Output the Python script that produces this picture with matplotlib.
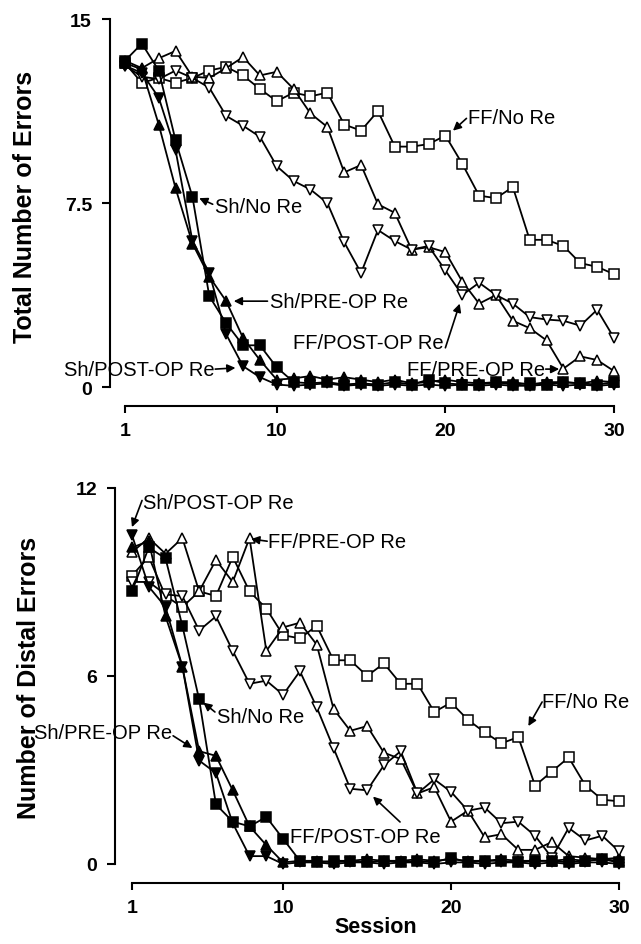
import matplotlib
matplotlib.use('Agg')
import matplotlib.pyplot as plt

plt.rcParams['font.family'] = ['Liberation Sans', 'DejaVu Sans']

sessions = list(range(1, 31))

# total number of errors (top panel)
ff_no_tot = [13.2, 12.4, 12.6, 12.4, 12.6, 12.9, 13.05, 12.7, 12.15, 11.65, 12.0, 11.85, 12.0, 10.7, 10.45,
             11.25, 9.8, 9.8, 9.9, 10.25, 9.1, 7.8, 7.7, 8.15, 6.0, 6.0, 5.75, 5.05, 4.9, 4.6]
ff_pre_tot = [13.3, 13.0, 13.4, 13.7, 12.65, 12.6, 13.0, 13.45, 12.7, 12.85, 12.15, 11.15, 10.6, 8.75, 9.05,
              7.45, 7.1, 5.6, 5.7, 5.5, 4.3, 3.4, 3.75, 2.7, 2.4, 1.9, 0.75, 1.25, 1.1, 0.65]
ff_post_tot = [13.1, 12.65, 12.55, 12.9, 12.6, 12.2, 11.05, 10.65, 10.2, 9.0, 8.4, 8.05, 7.5, 5.9, 4.65,
               6.4, 5.95, 5.6, 5.75, 4.75, 3.75, 4.25, 3.75, 3.4, 2.85, 2.75, 2.7, 2.5, 3.15, 2.0]
sh_no_tot = [13.3, 14.0, 12.9, 10.05, 7.75, 3.7, 2.6, 1.7, 1.7, 0.8, 0.2, 0.15, 0.2, 0.1, 0.15,
             0.1, 0.2, 0.1, 0.3, 0.15, 0.1, 0.1, 0.2, 0.1, 0.15, 0.1, 0.2, 0.15, 0.1, 0.2]
sh_pre_tot = [13.2, 12.95, 10.7, 8.1, 5.85, 4.5, 3.5, 2.0, 1.1, 0.3, 0.35, 0.45, 0.3, 0.4, 0.3,
              0.2, 0.3, 0.15, 0.2, 0.3, 0.2, 0.15, 0.2, 0.2, 0.1, 0.2, 0.2, 0.15, 0.25, 0.2]
sh_post_tot = [13.1, 12.8, 11.8, 9.65, 5.95, 4.65, 2.15, 0.85, 0.4, 0.1, 0.05, 0.1, 0.15, 0.05, 0.1,
               0.05, 0.1, 0.05, 0.1, 0.05, 0.1, 0.05, 0.1, 0.05, 0.05, 0.1, 0.05, 0.1, 0.05, 0.1]

# number of distal errors (bottom panel)
ff_no_dist = [9.2, 9.8, 8.55, 8.2, 8.7, 8.55, 9.8, 8.7, 8.15, 7.3, 7.2, 7.6, 6.5, 6.5, 6.0,
              6.4, 5.75, 5.75, 4.85, 5.15, 4.6, 4.2, 3.85, 4.05, 2.5, 2.95, 3.4, 2.5, 2.05, 2.0]
ff_pre_dist = [9.95, 10.4, 9.9, 10.4, 8.7, 9.7, 9.0, 10.4, 6.8, 7.55, 7.7, 7.0, 4.95, 4.25, 4.4,
               3.55, 3.35, 2.25, 2.45, 1.35, 1.7, 0.85, 0.95, 0.45, 0.45, 0.7, 0.25, 0.2, 0.15, 0.2]
ff_post_dist = [9.0, 9.0, 8.6, 8.55, 7.45, 7.9, 6.8, 5.75, 5.85, 5.4, 6.15, 5.0, 3.7, 2.4, 2.35,
                3.15, 3.6, 2.25, 2.7, 2.3, 1.7, 1.8, 1.3, 1.35, 0.9, 0.2, 1.15, 0.75, 0.9, 0.4]
sh_no_dist = [8.7, 10.1, 9.75, 7.6, 5.25, 1.9, 1.35, 1.2, 1.5, 0.8, 0.1, 0.05, 0.1, 0.1, 0.05,
              0.1, 0.05, 0.1, 0.05, 0.2, 0.05, 0.1, 0.1, 0.05, 0.1, 0.1, 0.05, 0.1, 0.15, 0.05]
sh_pre_dist = [10.1, 10.3, 7.9, 6.3, 3.6, 3.45, 2.35, 1.2, 0.6, 0.05, 0.1, 0.1, 0.05, 0.1, 0.15,
               0.1, 0.1, 0.15, 0.1, 0.15, 0.1, 0.1, 0.15, 0.1, 0.1, 0.1, 0.15, 0.1, 0.15, 0.1]
sh_post_dist = [10.5, 8.85, 8.2, 6.3, 3.3, 2.9, 1.3, 0.25, 0.25, 0.0, 0.05, 0.05, 0.0, 0.05, 0.05,
                0.0, 0.05, 0.05, 0.0, 0.05, 0.05, 0.0, 0.05, 0.05, 0.0, 0.05, 0.0, 0.05, 0.05, 0.0]

x_ticks = [1, 10, 20, 30]


def draw_series(ax, values, marker, filled):
    """one group: black line with open or filled markers"""
    ms = 6.5 if marker == 's' else 7.5
    ax.plot(sessions, values, color='black', lw=1.3, marker=marker, ms=ms,
            mfc='black' if filled else 'white', mec='black', mew=1.1, clip_on=False)


def style_axis(ax, ymax, yticks, yticklabels, xlim):
    ax.set_xlim(*xlim)
    ax.set_ylim(0, ymax)
    for side in ['top', 'right']:
        ax.spines[side].set_visible(False)
    ax.spines['left'].set_bounds(0, ymax)
    ax.spines['bottom'].set_bounds(1, 30)
    ax.spines['bottom'].set_position(('outward', 14))
    ax.spines['left'].set_linewidth(1.5)
    ax.spines['bottom'].set_linewidth(1.5)
    ax.set_yticks(yticks)
    ax.set_yticklabels(yticklabels, fontsize=14, fontweight='bold')
    ax.set_xticks(x_ticks)
    ax.set_xticklabels([str(t) for t in x_ticks], fontsize=14, fontweight='bold')
    ax.tick_params(axis='y', direction='out', length=6, width=1.5, pad=7)
    ax.tick_params(axis='x', direction='out', length=5, width=1.5, pad=6)


def label(ax, text, pos, tail, tip, ha='left'):
    ax.text(pos[0], pos[1], text, ha=ha, va='center', fontsize=14.5)
    ax.annotate('', xy=tip, xytext=tail, annotation_clip=False,
                arrowprops=dict(arrowstyle='-|>', lw=1.2, color='black',
                                mutation_scale=12, shrinkA=0, shrinkB=0))


fig = plt.figure(figsize=(6.41, 9.45), dpi=100)

# top panel
ax1 = fig.add_axes([0.1716, 0.5894, 0.8034, 0.3894])
draw_series(ax1, ff_no_tot, 's', False)
draw_series(ax1, ff_pre_tot, '^', False)
draw_series(ax1, ff_post_tot, 'v', False)
draw_series(ax1, sh_no_tot, 's', True)
draw_series(ax1, sh_pre_tot, '^', True)
draw_series(ax1, sh_post_tot, 'v', True)
style_axis(ax1, 15, [0, 7.5, 15], ['0', '7.5', '15'], (0.11, 30.65))

label(ax1, 'FF/No Re', (21.35, 11.0), (21.25, 10.95), (20.45, 10.45))
label(ax1, 'Sh/No Re', (6.35, 7.35), (6.2, 7.45), (5.4, 7.7))
label(ax1, 'Sh/PRE-OP Re', (9.6, 3.5), (9.45, 3.5), (7.45, 3.5))
label(ax1, 'FF/POST-OP Re', (19.9, 1.83), (20.0, 1.6), (20.85, 3.4), ha='right')
label(ax1, 'FF/PRE-OP Re', (25.9, 0.73), (25.95, 0.73), (26.75, 0.73), ha='right')
label(ax1, 'Sh/POST-OP Re', (6.3, 0.73), (6.35, 0.73), (7.55, 0.78), ha='right')

# bottom panel
ax2 = fig.add_axes([0.1794, 0.0847, 0.8034, 0.3979])
draw_series(ax2, ff_no_dist, 's', False)
draw_series(ax2, ff_pre_dist, '^', False)
draw_series(ax2, ff_post_dist, 'v', False)
draw_series(ax2, sh_no_dist, 's', True)
draw_series(ax2, sh_pre_dist, '^', True)
draw_series(ax2, sh_post_dist, 'v', True)
style_axis(ax2, 12, [0, 6, 12], ['0', '6', '12'], (-0.01, 30.65))

label(ax2, 'Sh/POST-OP Re', (1.65, 11.55), (1.6, 11.6), (1.0, 10.75))
label(ax2, 'FF/PRE-OP Re', (9.1, 10.3), (9.05, 10.3), (8.1, 10.37))
label(ax2, 'Sh/No Re', (6.06, 4.72), (5.94, 4.85), (5.25, 5.15))
label(ax2, 'Sh/PRE-OP Re', (3.38, 4.21), (3.45, 4.09), (4.6, 3.7), ha='right')
label(ax2, 'FF/POST-OP Re', (10.41, 0.89), (16.96, 1.34), (15.35, 2.15))
label(ax2, 'FF/No Re', (25.42, 5.2), (25.42, 5.17), (24.6, 4.4))

fig.text(0.039, 0.781, 'Total Number of Errors', rotation=90, ha='center', va='center',
         fontsize=18, fontweight='bold')
fig.text(0.046, 0.2825, 'Number of Distal Errors', rotation=90, ha='center', va='center',
         fontsize=18, fontweight='bold')
fig.text(0.586, 0.018, 'Session', ha='center', va='center', fontsize=15.5, fontweight='bold')

fig.savefig('out.png', dpi=100)
